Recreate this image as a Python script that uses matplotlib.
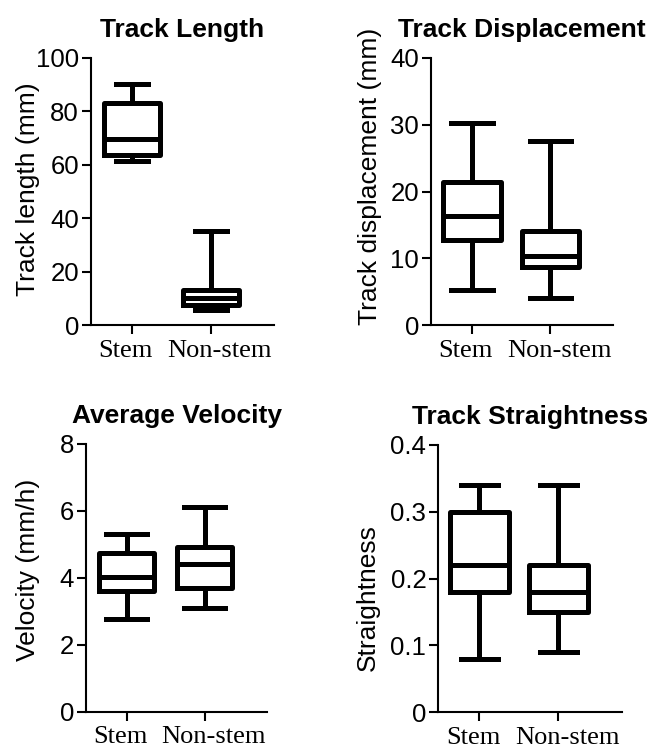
import matplotlib.pyplot as plt
from matplotlib.transforms import ScaledTranslation

# Box plot summaries
groups = ['Stem', 'Non-stem']

length_whislo = [61.5, 5.5]
length_q1 = [63.7, 7.4]
length_med = [69.7, 10.1]
length_q3 = [83.0, 13.1]
length_whishi = [90.1, 35.4]

disp_whislo = [5.2, 4.1]
disp_q1 = [12.8, 8.7]
disp_med = [16.3, 10.3]
disp_q3 = [21.4, 14.1]
disp_whishi = [30.2, 27.5]

vel_whislo = [2.77, 3.09]
vel_q1 = [3.61, 3.69]
vel_med = [4.03, 4.40]
vel_q3 = [4.75, 4.93]
vel_whishi = [5.31, 6.12]

str_whislo = [0.08, 0.09]
str_q1 = [0.18, 0.15]
str_med = [0.22, 0.18]
str_q3 = [0.30, 0.22]
str_whishi = [0.34, 0.34]


def make_stats(lo, q1, med, q3, hi):
    return [dict(label=g, whislo=a, q1=b, med=c, q3=d, whishi=e)
            for g, a, b, c, d, e in zip(groups, lo, q1, med, q3, hi)]


# title, ylabel, stats, axes rect, ylim, yticks, box width, cap width, ylabel coords
panels = [
    ('Track Length', 'Track length (mm)',
     make_stats(length_whislo, length_q1, length_med, length_q3, length_whishi),
     [0.140, 0.567, 0.282, 0.356], (0, 100), [0, 20, 40, 60, 80, 100], 0.71, 0.40, (-0.28, 0.51)),
    ('Track Displacement', 'Track displacement (mm)',
     make_stats(disp_whislo, disp_q1, disp_med, disp_q3, disp_whishi),
     [0.664, 0.567, 0.281, 0.356], (0, 40), [0, 10, 20, 30, 40], 0.73, 0.53, (-0.27, 0.555)),
    ('Average Velocity', 'Velocity (mm/h)',
     make_stats(vel_whislo, vel_q1, vel_med, vel_q3, vel_whishi),
     [0.1325, 0.0523, 0.279, 0.3567], (0, 8), [0, 2, 4, 6, 8], 0.70, 0.52, (-0.255, 0.53)),
    ('Track Straightness', 'Straightness',
     make_stats(str_whislo, str_q1, str_med, str_q3, str_whishi),
     [0.675, 0.0515, 0.283, 0.356], (0, 0.4), [0, 0.1, 0.2, 0.3, 0.4], 0.74, 0.47, (-0.315, 0.43)),
]

plt.rcParams['font.family'] = 'Liberation Sans'

fig = plt.figure(figsize=(6.49, 7.51), dpi=100)

for title, ylabel, stats, rect, ylim, yticks, bw, cw, lab_xy in panels:
    ax = fig.add_axes(rect)
    lw = 3.6
    ax.bxp(stats, positions=[1, 2], widths=bw, showfliers=False,
           boxprops=dict(linewidth=lw, color='black'),
           medianprops=dict(linewidth=lw, color='black'),
           whiskerprops=dict(linewidth=lw, color='black'),
           capprops=dict(linewidth=lw, color='black'),
           capwidths=cw)
    ax.set_xlim(0.48, 2.8)
    ax.set_ylim(*ylim)
    ax.set_yticks(yticks)
    ax.set_yticklabels(['%g' % t for t in yticks], fontsize=18.5)
    ax.set_xticks([1, 2])
    ax.set_xticklabels(groups, fontsize=19, family='Liberation Serif')
    ax.set_ylabel(ylabel, fontsize=19)
    ax.yaxis.set_label_coords(*lab_xy)
    ax.set_title(title, fontsize=19, fontweight='bold', pad=15)
    ax.spines['top'].set_visible(False)
    ax.spines['right'].set_visible(False)
    for s in ('left', 'bottom'):
        ax.spines[s].set_linewidth(1.5)
    ax.tick_params(width=1.5, length=6.5, pad=2)
    ax.tick_params(axis='x', pad=4)
    # push the two category labels apart a little, as in the original
    for lab, dx in zip(ax.get_xticklabels(), [-6, 9]):
        lab.set_transform(lab.get_transform() + ScaledTranslation(dx / 100, 0, fig.dpi_scale_trans))

fig.savefig('out.png', dpi=100)
